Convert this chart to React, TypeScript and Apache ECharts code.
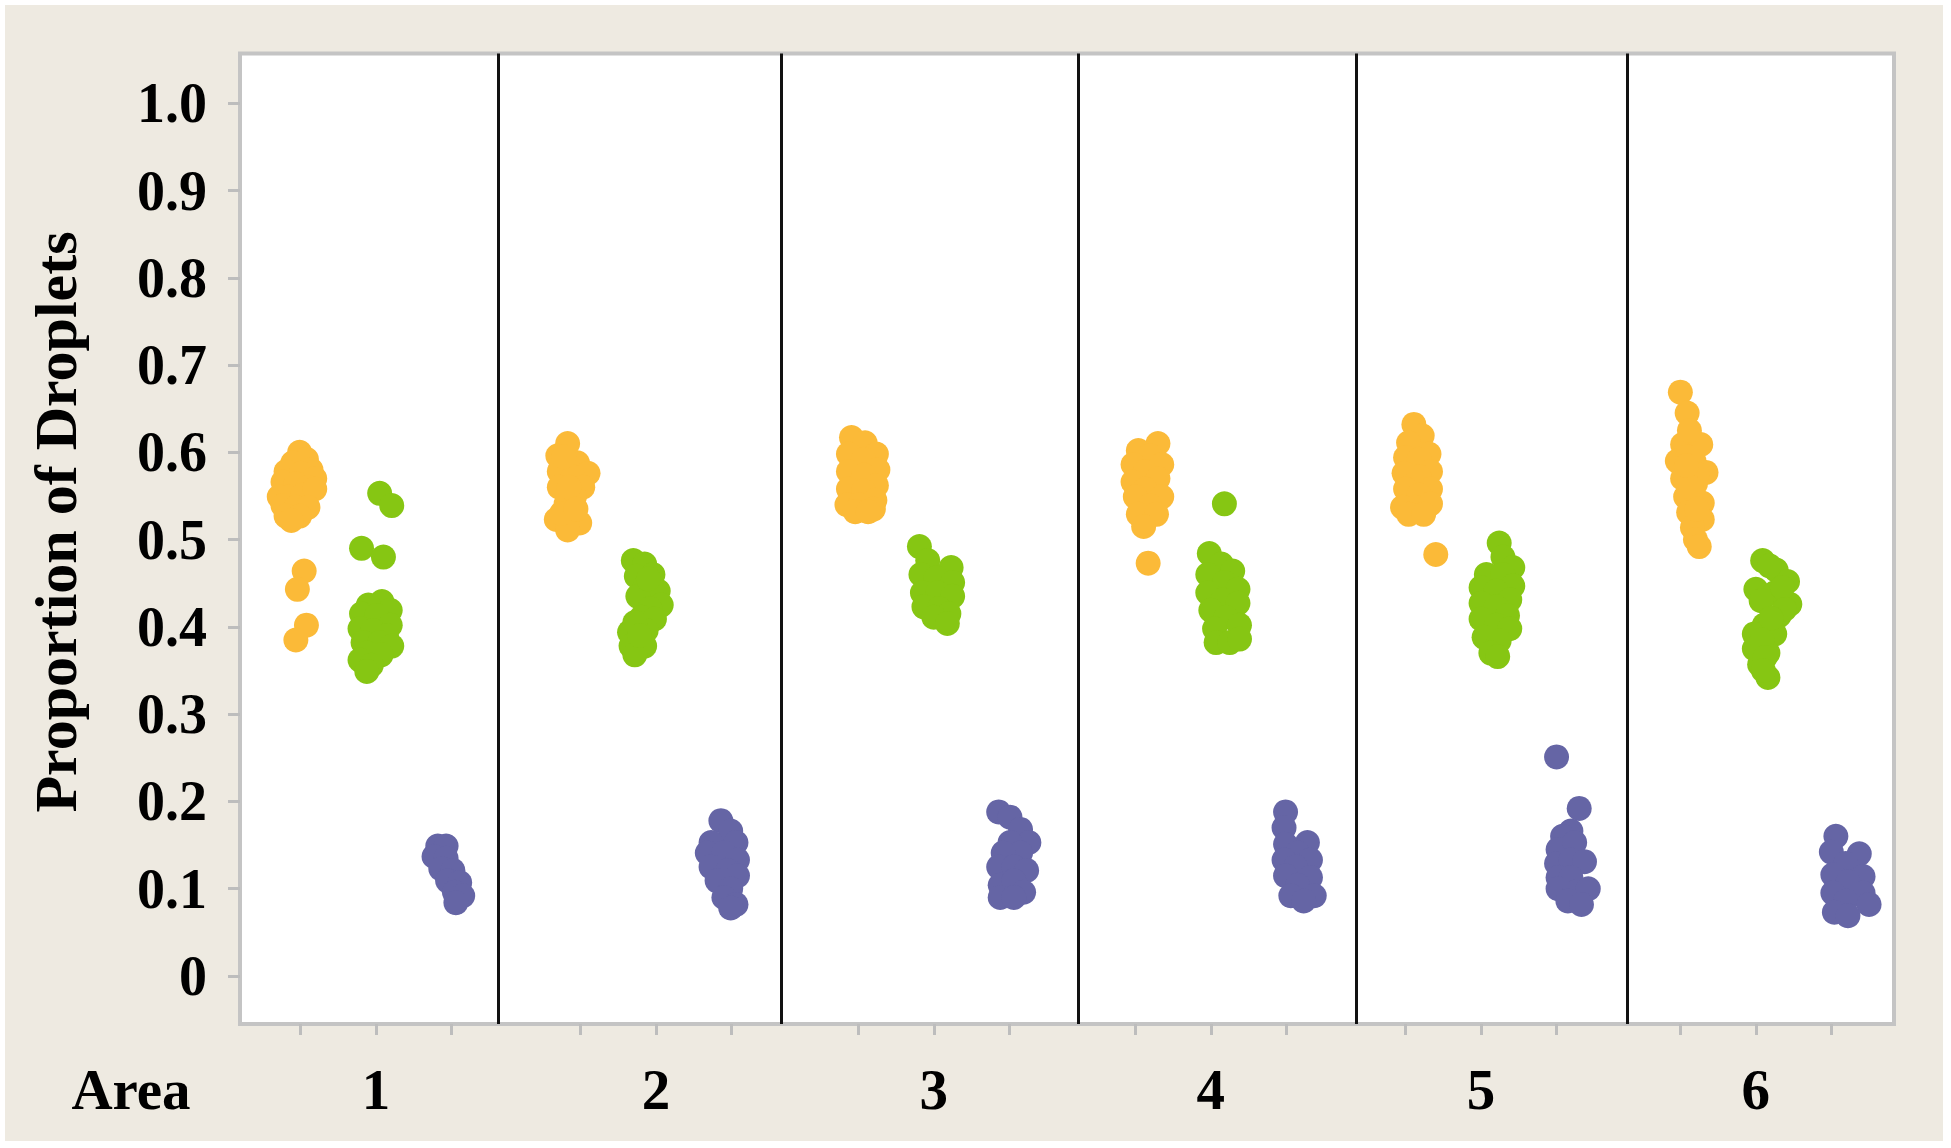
import React, { useEffect, useRef } from "react";
import * as echarts from "echarts";

// ---- data ----
const areaNames = ["1", "2", "3", "4", "5", "6"];
const areaAxisPos = [1.8, 5.51, 9.19, 12.86, 16.44, 20.08];
const panelDividers = [3.42, 7.17, 11.1, 14.78, 18.38];
const groupOffsets = [-1, 0, 1];
const yTickValues = [0, 0.1, 0.2, 0.3, 0.4, 0.5, 0.6, 0.7, 0.8, 0.9, 1.0];
const yAxisTitle = "Proportion of Droplets";
const xAxisTitle = "Area";

// [jitter, proportion] per area
const orangePts: number[][][] = [
  [[-0.01,0.600],[0.08,0.592],[-0.10,0.588],[0.14,0.580],[-0.19,0.578],[0.01,0.576],[0.19,0.570],[-0.23,0.566],[-0.06,0.564],[0.10,0.560],[-0.28,0.549],[-0.15,0.549],[0.03,0.551],[0.19,0.558],[-0.23,0.539],[-0.06,0.537],[0.10,0.537],[-0.19,0.527],[-0.01,0.527],[-0.12,0.522],[0.05,0.464],[-0.04,0.443],[0.08,0.402],[-0.06,0.385]],
  [[-0.17,0.610],[-0.30,0.596],[-0.04,0.588],[0.10,0.576],[-0.28,0.578],[-0.10,0.572],[-0.28,0.560],[0.03,0.560],[-0.08,0.549],[-0.19,0.541],[-0.32,0.523],[-0.12,0.527],[-0.01,0.519],[-0.17,0.511],[-0.22,0.595],[-0.15,0.560],[-0.25,0.530],[-0.06,0.535]],
  [[-0.09,0.617],[0.09,0.611],[0.24,0.598],[-0.13,0.598],[0.07,0.592],[0.26,0.580],[-0.13,0.578],[0.07,0.574],[0.24,0.562],[-0.13,0.558],[0.07,0.556],[0.22,0.545],[-0.15,0.540],[0.02,0.540],[0.20,0.535],[-0.04,0.532],[0.13,0.532]],
  [[0.30,0.610],[0.04,0.602],[0.19,0.596],[-0.03,0.586],[0.35,0.586],[0.13,0.578],[-0.03,0.566],[0.30,0.570],[0.13,0.558],[0.35,0.549],[0.00,0.549],[0.19,0.539],[0.04,0.529],[0.28,0.529],[0.11,0.515],[0.17,0.473]],
  [[0.11,0.632],[0.22,0.619],[0.04,0.611],[0.31,0.598],[0.00,0.594],[0.18,0.592],[0.33,0.578],[-0.02,0.576],[0.18,0.572],[0.33,0.558],[0.00,0.558],[0.18,0.551],[-0.04,0.537],[0.13,0.537],[0.33,0.541],[0.04,0.529],[0.24,0.529],[0.40,0.483]],
  [[0.00,0.669],[0.09,0.645],[0.03,0.609],[0.27,0.609],[-0.04,0.590],[0.18,0.590],[0.34,0.577],[0.03,0.570],[0.20,0.564],[0.07,0.549],[0.29,0.542],[0.11,0.531],[0.29,0.523],[0.16,0.514],[0.20,0.500],[0.25,0.492],[0.12,0.625],[0.10,0.595],[0.22,0.575],[0.14,0.560],[0.22,0.535],[0.08,0.585]],
];

const greenPts: number[][][] = [
  [[0.05,0.553],[0.21,0.539],[-0.19,0.490],[0.10,0.480],[0.08,0.429],[0.19,0.419],[-0.10,0.425],[-0.19,0.415],[0.01,0.413],[0.19,0.402],[-0.21,0.398],[-0.04,0.396],[0.14,0.390],[-0.17,0.382],[0.05,0.382],[0.21,0.378],[-0.12,0.370],[0.07,0.368],[-0.21,0.362],[-0.06,0.356],[-0.12,0.349]],
  [[-0.30,0.476],[-0.15,0.472],[-0.04,0.460],[-0.26,0.458],[-0.15,0.445],[0.03,0.441],[-0.24,0.435],[0.07,0.425],[-0.08,0.421],[-0.19,0.411],[-0.02,0.409],[-0.35,0.394],[-0.13,0.396],[-0.33,0.378],[-0.15,0.378],[-0.28,0.368],[-0.10,0.455],[-0.28,0.405],[-0.22,0.390]],
  [[-0.19,0.492],[-0.08,0.476],[0.23,0.468],[-0.17,0.460],[0.03,0.456],[0.25,0.451],[-0.15,0.439],[0.05,0.439],[0.25,0.435],[-0.13,0.423],[0.07,0.421],[0.20,0.415],[0.00,0.411],[0.18,0.404]],
  [[0.18,0.541],[-0.02,0.484],[0.14,0.472],[0.29,0.464],[-0.04,0.460],[0.18,0.451],[0.36,0.443],[-0.04,0.439],[0.16,0.431],[0.36,0.427],[0.00,0.419],[0.20,0.411],[0.38,0.402],[0.05,0.398],[0.07,0.382],[0.25,0.382],[0.38,0.386]],
  [[0.24,0.496],[0.29,0.480],[0.42,0.468],[0.07,0.460],[0.29,0.460],[0.42,0.447],[0.00,0.445],[0.20,0.441],[0.38,0.431],[0.00,0.427],[0.20,0.423],[0.35,0.413],[0.00,0.409],[0.20,0.402],[0.38,0.398],[0.04,0.388],[0.24,0.384],[0.13,0.370],[0.22,0.366]],
  [[0.09,0.476],[0.27,0.465],[0.42,0.452],[0.00,0.443],[0.25,0.439],[0.45,0.426],[0.07,0.430],[0.31,0.413],[0.11,0.402],[-0.02,0.392],[0.25,0.392],[-0.02,0.375],[0.16,0.370],[0.05,0.357],[0.16,0.342],[0.18,0.470],[0.35,0.445],[0.38,0.420],[0.20,0.410],[0.08,0.385],[0.12,0.365],[0.10,0.350]],
];

const purplePts: number[][][] = [
  [[-0.18,0.149],[-0.07,0.149],[-0.23,0.137],[-0.07,0.135],[-0.14,0.123],[0.02,0.121],[-0.05,0.109],[0.11,0.107],[0.04,0.096],[0.15,0.092],[0.06,0.084]],
  [[-0.14,0.178],[-0.01,0.166],[-0.27,0.153],[0.06,0.153],[-0.32,0.141],[-0.10,0.141],[0.08,0.133],[-0.27,0.125],[-0.05,0.121],[0.08,0.115],[-0.19,0.109],[-0.01,0.100],[-0.10,0.090],[0.06,0.082],[-0.01,0.078]],
  [[-0.14,0.188],[0.01,0.182],[0.15,0.168],[0.26,0.153],[0.01,0.153],[0.15,0.141],[-0.08,0.141],[-0.14,0.125],[0.06,0.125],[0.23,0.121],[-0.12,0.104],[0.06,0.109],[0.19,0.096],[-0.12,0.090],[0.06,0.090]],
  [[-0.01,0.188],[-0.03,0.170],[-0.01,0.151],[0.28,0.153],[0.15,0.141],[-0.03,0.133],[0.32,0.133],[0.12,0.125],[-0.01,0.115],[0.32,0.113],[0.15,0.104],[0.06,0.092],[0.37,0.092],[0.23,0.086]],
  [[0.00,0.251],[0.30,0.192],[0.19,0.166],[0.08,0.160],[0.02,0.145],[0.24,0.153],[0.00,0.129],[0.19,0.133],[0.37,0.131],[0.02,0.113],[0.19,0.113],[0.02,0.100],[0.24,0.096],[0.42,0.100],[0.15,0.086],[0.33,0.082]],
  [[0.06,0.160],[0.37,0.140],[0.00,0.142],[0.19,0.129],[0.42,0.114],[0.02,0.116],[0.22,0.108],[0.02,0.095],[0.42,0.095],[0.19,0.086],[0.50,0.082],[0.04,0.073],[0.22,0.069]],
];

const groups = [
  { name: "Group A", pts: orangePts, color: "#FBBA38" },
  { name: "Group B", pts: greenPts, color: "#86C613" },
  { name: "Group C", pts: purplePts, color: "#6565A5" },
];

const FONT = "'Times New Roman', 'Liberation Serif', serif";

export default function App() {
  const ref = useRef<HTMLDivElement>(null);

  useEffect(() => {
    if (!ref.current) return;
    const chart = echarts.init(ref.current, undefined, { renderer: "svg" });

    const tickPositions = areaAxisPos.flatMap((c) => groupOffsets.map((o) => c + o));

    const series: any[] = groups.map((g, gi) => ({
      type: "scatter",
      name: g.name,
      symbol: "circle",
      symbolSize: 25,
      itemStyle: { color: g.color, opacity: 1 },
      data: g.pts.flatMap((arr, ai) =>
        arr.map(([j, v]) => [areaAxisPos[ai] + groupOffsets[gi] + j, v])
      ),
      z: 3,
    }));

    series[0].markLine = {
      silent: true,
      symbol: ["none", "none"],
      label: { show: false },
      lineStyle: { color: "#111", width: 3, type: "solid" },
      emphasis: { disabled: true },
      data: panelDividers.map((d) => ({ xAxis: d })),
      z: 5,
    };

    chart.setOption({
      animation: false,
      backgroundColor: "#ffffff",
      graphic: [
        {
          type: "rect",
          z: -10,
          shape: { x: 5, y: 5, width: 1951 - 13, height: 1148 - 12 },
          style: { fill: "#EEEAE1" },
          silent: true,
        },
        {
          type: "text",
          x: 56,
          y: 522,
          rotation: Math.PI / 2,
          style: {
            text: yAxisTitle,
            font: `bold 60px ${FONT}`,
            fill: "#000",
            textAlign: "center",
            textVerticalAlign: "middle",
          },
        },
        {
          type: "text",
          x: 131,
          y: 1089,
          style: {
            text: xAxisTitle,
            font: `bold 57px ${FONT}`,
            fill: "#000",
            textAlign: "center",
            textVerticalAlign: "middle",
          },
        },
      ],
      grid: {
        left: 240,
        right: 57,
        top: 53.5,
        bottom: 124,
        show: true,
        backgroundColor: "#ffffff",
        borderColor: "#c4c4c4",
        borderWidth: 4,
      },
      xAxis: {
        type: "value",
        min: 0,
        max: 21.91,
        axisLine: { show: false, onZero: false },
        splitLine: { show: false },
        axisTick: {
          show: true,
          customValues: tickPositions,
          length: 11,
          lineStyle: { color: "#bdbdbd", width: 3 },
        },
        axisLabel: {
          show: true,
          customValues: areaAxisPos,
          margin: 65,
          verticalAlign: "middle",
          fontFamily: FONT,
          fontWeight: "bold",
          fontSize: 57,
          color: "#000",
          formatter: (v: number) => {
            let best = 0;
            areaAxisPos.forEach((p, i) => {
              if (Math.abs(p - v) < Math.abs(areaAxisPos[best] - v)) best = i;
            });
            return areaNames[best];
          },
        },
      },
      yAxis: {
        type: "value",
        min: -0.055,
        max: 1.057,
        axisLine: { show: false },
        splitLine: { show: false },
        axisTick: {
          show: true,
          customValues: yTickValues,
          length: 12,
          lineStyle: { color: "#bdbdbd", width: 3 },
        },
        axisLabel: {
          show: true,
          customValues: yTickValues,
          margin: 33,
          fontFamily: FONT,
          fontWeight: "bold",
          fontSize: 56,
          color: "#000",
          formatter: (v: number) => (Math.abs(v) < 1e-9 ? "0" : v.toFixed(1)),
        },
      },
      series,
    });

    return () => chart.dispose();
  }, []);

  return (
    <div
      ref={ref}
      style={{ position: "fixed", left: 0, top: 0, width: 1951, height: 1148 }}
    />
  );
}
